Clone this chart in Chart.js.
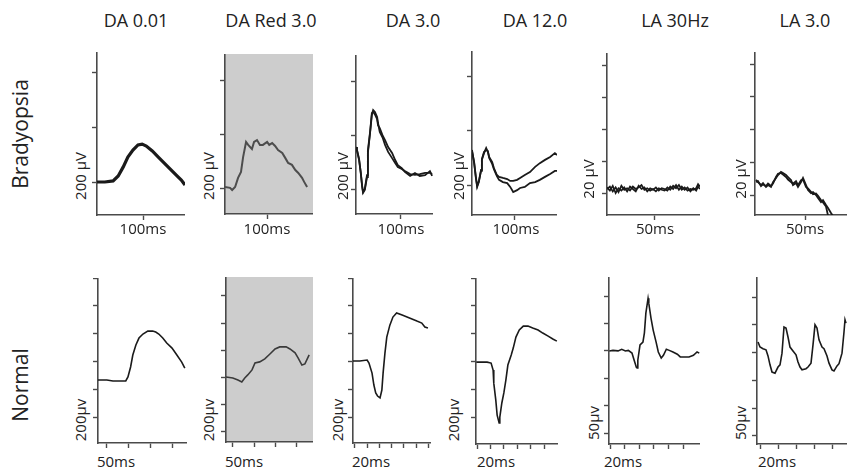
<!DOCTYPE html>
<html>
<head>
<meta charset="utf-8">
<script src="https://cdn.jsdelivr.net/npm/chart.js@4.4.1/dist/chart.umd.min.js"></script>
<style>
  html, body { margin: 0; padding: 0; background: #fff; }
  #fig { position: relative; width: 847px; height: 467px; overflow: hidden; font-family: "Open Sans", sans-serif; color: #222; }
  #fig canvas { position: absolute; }
  .lbl { position: absolute; white-space: nowrap; line-height: 1; transform: translate(-50%, -50%); z-index: 2; }
  .rot { transform: translate(-50%, -50%) rotate(-90deg); }
</style>
</head>
<body>
<div id="fig"></div>
<script>
// column titles and row names
const protocols = ["DA 0.01", "DA Red 3.0", "DA 3.0", "DA 12.0", "LA 30Hz", "LA 3.0"];
const groups = ["Bradyopsia", "Normal"];
const bradyAmpLabels = ["200 µV", "200 µV", "200 µV", "200 µV", "20 µV", "20 µV"];
const bradyTimeLabels = ["100ms", "100ms", "100ms", "100ms", "50ms", "50ms"];
const normalAmpLabels = ["200µv", "200µv", "200µv", "200µv", "50µv", "50µv"];
const normalTimeLabels = ["50ms", "50ms", "20ms", "20ms", "20ms", "20ms"];

// ---- Bradyopsia row (ms / µV) ----
const bDA001Ms = [0, 17, 35, 46, 57, 67, 78, 89, 98, 107, 120, 133, 146, 159, 172, 183, 191];
const bDA001Uv = [0, 0, 4, 22, 55, 91, 116, 135, 138, 131, 113, 91, 69, 47, 25, 7, -11];

const bRedMs = [0, 12, 17, 24, 31, 38, 43, 50, 55, 64, 69, 76, 83, 90, 100, 105, 112, 119, 126, 136, 143, 150, 159, 167, 174, 183, 188, 195];
const bRedUv = [7, 4, -4, 7, 41, 63, 118, 174, 163, 148, 174, 181, 163, 163, 174, 163, 170, 159, 144, 133, 115, 96, 89, 70, 59, 41, 26, 7];

const bDA3Ms = [0, 2, 7, 11, 14, 16, 20, 25, 27, 32, 36, 39, 43, 48, 50, 54, 61, 66, 73, 82, 89, 95, 104, 111, 123, 134, 145, 157, 168, 173];
const bDA3UvA = [159, 148, 111, 63, 11, -11, 0, 48, 137, 211, 278, 296, 289, 270, 248, 215, 192, 167, 141, 118, 100, 85, 78, 70, 59, 56, 59, 63, 63, 59];
const bDA3UvB = [159, 150, 115, 60, 15, -7, 4, 55, 145, 215, 285, 290, 280, 262, 240, 229, 200, 185, 159, 137, 111, 92, 81, 67, 52, 63, 52, 55, 70, 52];

const bDA12Ms = [0, 5, 9, 12, 16, 21, 23, 28, 33, 37, 40, 47, 51, 58, 63, 72, 82, 89, 96, 105, 112, 123, 135, 147, 158, 170, 182, 193, 198];
const bDA12UvA = [130, 81, 30, -7, 11, 56, 93, 118, 137, 122, 104, 85, 63, 37, 30, 26, 22, 15, 15, 19, 26, 37, 48, 67, 81, 93, 104, 118, 111];
const bDA12UvB = [125, 85, 26, -4, 15, 52, 96, 122, 130, 126, 100, 78, 59, 33, 19, 11, 7, -7, -26, -19, -11, -7, 7, 11, 19, 30, 41, 52, 52];

const bLA30Ms = [0, 3, 6, 9, 12, 15, 18, 21, 24, 27, 30, 33, 36, 39, 42, 45, 48, 51, 54, 57, 60, 63, 66, 69, 72, 75, 78, 81, 84, 87, 90, 93, 95, 97];
const bLA30UvA = [2.5, 4.0, 1.0, 3.5, 0.5, 4.5, 2.0, 3.0, 1.5, 4.0, 2.5, 3.5, 5.0, 2.0, 3.0, 1.5, 2.5, 1.0, 3.0, 2.0, 1.5, 3.5, 2.0, 4.5, 3.0, 5.0, 2.0, 3.5, 1.5, 2.5, 2.0, 3.0, 5.5, 4.0];
const bLA30UvB = [3.5, 1.5, 4.5, 0.0, 3.0, 1.5, 3.5, 1.0, 4.0, 2.5, 1.0, 4.5, 2.5, 3.5, 1.0, 3.0, 2.0, 3.5, 1.5, 3.0, 2.5, 1.5, 4.0, 2.5, 5.0, 2.0, 4.0, 2.0, 3.5, 1.0, 3.0, 1.5, 4.0, 2.5];

const bLA3Ms = [1, 3, 6, 8, 11, 13, 16, 18, 21, 23, 26, 28, 31, 33, 36, 38, 41, 43, 46, 48, 51, 53, 56, 58, 61, 63, 66, 68, 71, 73, 76, 78];
const bLA3UvA = [9.2, 7.9, 6.1, 7.3, 4.9, 6.1, 4.9, 7.9, 10.4, 12.2, 14.1, 13.4, 12.2, 11.0, 9.2, 6.1, 7.3, 4.9, 7.9, 10.4, 6.1, 3.1, 1.2, 1.8, 0.0, -1.8, -4.3, -3.1, -6.1, -7.9, -11.0, -12.8];
const bLA3UvB = [8.0, 8.5, 5.5, 6.5, 5.5, 7.0, 5.5, 7.0, 11.0, 13.0, 13.5, 12.5, 11.0, 9.5, 8.0, 7.0, 8.5, 6.0, 9.0, 9.5, 5.0, 4.0, 2.0, 0.5, 1.0, -0.5, -3.0, -4.5, -7.0, -12.5, -14.0, -14.0];

// ---- Normal row (ms / µV) ----
const nDA001Ms = [-20, 0, 14, 34, 43, 48, 54, 59, 66, 73, 82, 93, 104, 111, 118, 127, 136, 148, 159, 170, 177];
const nDA001Uv = [266, 266, 259, 259, 259, 288, 360, 446, 518, 568, 597, 618, 618, 611, 597, 568, 532, 496, 446, 395, 352];

const nRedMs = [-16, 0, 12, 21, 28, 35, 45, 52, 63, 75, 87, 99, 110, 125, 134, 146, 153, 162, 169, 179];
const nRedUv = [404, 397, 382, 368, 397, 419, 456, 507, 515, 537, 573, 610, 625, 625, 610, 581, 544, 492, 500, 566];

const nDA3Ms = [-3, 8, 20, 23, 28, 31, 34, 37, 41, 44, 46, 49, 52, 57, 62, 68, 77, 85, 93, 101, 109, 114, 119];
const nDA3Uv = [403, 403, 410, 388, 316, 230, 173, 151, 137, 194, 316, 460, 575, 661, 719, 748, 733, 719, 705, 690, 676, 647, 640];

const nDA12Ms = [-1, 7, 15, 21, 24, 25, 28, 30, 33, 34, 37, 40, 43, 46, 51, 54, 58, 63, 69, 76, 83, 91, 98, 106, 113, 119];
const nDA12Uv = [395, 395, 395, 388, 338, 244, 122, 14, -43, 0, 101, 173, 266, 374, 446, 496, 575, 626, 654, 654, 640, 626, 604, 582, 561, 546];

const nLA30Ms = [-1, 4, 11, 16, 21, 25, 30, 33, 36, 37, 38, 41, 45, 47, 49, 52, 53, 56, 59, 63, 66, 70, 73, 77, 81, 86, 92, 96, 103, 108, 114, 119, 122];
const nLA30Uv = [150, 151, 150, 153, 150, 151, 146, 133, 120, 119, 133, 161, 166, 183, 219, 246, 237, 210, 188, 166, 148, 137, 142, 153, 151, 148, 144, 139, 139, 139, 142, 148, 146];

const nLA3Ms = [-2.2, 0, 3.3, 6.6, 8.8, 11, 13.2, 16.5, 19.8, 22, 24.2, 26.4, 28.6, 30.8, 33, 36.3, 39.6, 41.8, 44, 46.2, 50.6, 52.8, 56.1, 58.3, 60.5, 62.7, 64.9, 68.2, 70.4, 73.7, 75.9, 79.2, 81.4, 84.7, 86.9, 90.2, 92.4, 93.5, 94.6];
const nLA3Uv = [169, 160, 157, 155, 144, 128, 115, 113, 124, 128, 149, 196, 194, 178, 160, 153, 146, 133, 124, 119, 121, 124, 131, 164, 200, 194, 173, 160, 157, 144, 131, 119, 117, 126, 130, 149, 187, 209, 203];

const AXIS = "#4a4a4a";
const INK = "#1a1a1a";
const TL = 5;

const bgPlugin = {
  id: "panelBg",
  beforeDraw(chart, args, opts) {
    if (!opts.color) return;
    const a = chart.chartArea, ctx = chart.ctx;
    ctx.save();
    ctx.fillStyle = opts.color;
    ctx.fillRect(a.left, a.top, a.right - a.left, a.bottom - a.top);
    ctx.restore();
  }
};

const tr = (xs, ys, color, width) => ({ xs, ys, color, width });

const panels = [
  { axisX: 97, top: 52, right: 185, axisY: 215, xMin: 0, xMax: 191, yMin: -120, yMax: 473, xTicks: [100], yTicks: [0, 200, 400],
    traces: [tr(bDA001Ms, bDA001Uv, INK, 3.2)] },
  { axisX: 225, top: 54, right: 313, axisY: 214, xMin: 0, xMax: 209, yMin: -93, yMax: 500, xTicks: [100], yTicks: [0, 200, 400], bg: "#cdcdcd",
    traces: [tr(bRedMs, bRedUv, "#4d4d4d", 2)] },
  { axisX: 356, top: 55, right: 433, axisY: 214, xMin: 0, xMax: 175, yMin: -89, yMax: 500, xTicks: [100], yTicks: [0, 200, 400],
    traces: [tr(bDA3Ms, bDA3UvA, INK, 1.8), tr(bDA3Ms, bDA3UvB, INK, 1.8)] },
  { axisX: 472, top: 51, right: 557, axisY: 215, xMin: 0, xMax: 198, yMin: -111, yMax: 496, xTicks: [100], yTicks: [0, 200, 400],
    traces: [tr(bDA12Ms, bDA12UvA, INK, 1.8), tr(bDA12Ms, bDA12UvB, INK, 1.8)] },
  { axisX: 607, top: 53, right: 700, axisY: 215, xMin: 0, xMax: 97, yMin: -13.75, yMax: 87.5, xTicks: [50], yTicks: [0, 20, 40, 60, 80],
    traces: [tr(bLA30Ms, bLA30UvA, INK, 1.7), tr(bLA30Ms, bLA30UvB, INK, 1.7)] },
  { axisX: 755, top: 52, right: 847, axisY: 215, xMin: 0, xMax: 92, yMin: -12.2, yMax: 87.4, xTicks: [50], yTicks: [0, 20, 40, 60, 80],
    traces: [tr(bLA3Ms, bLA3UvA, INK, 1.8), tr(bLA3Ms, bLA3UvB, INK, 1.8)] },

  { axisX: 98, top: 278, right: 187, axisY: 443, xMin: -20, xMax: 182, yMin: -187, yMax: 1000, xTicks: [0, 50, 100, 150], yTicks: [0, 200, 400, 600, 800, 1000],
    traces: [tr(nDA001Ms, nDA001Uv, INK, 1.6)] },
  { axisX: 226, top: 277, right: 313, axisY: 442, xMin: -16, xMax: 188, yMin: -74, yMax: 1139, xTicks: [0, 50, 100, 150], yTicks: [0, 200, 400, 600, 800, 1000], bg: "#cdcdcd",
    traces: [tr(nRedMs, nRedUv, "#3a3a3a", 1.6)] },
  { axisX: 353, top: 278, right: 431, axisY: 443, xMin: -3, xMax: 124, yMin: -187, yMax: 1000, xTicks: [0, 20, 40, 60, 80, 100, 120], yTicks: [0, 200, 400, 600, 800, 1000],
    traces: [tr(nDA3Ms, nDA3Uv, INK, 1.6)] },
  { axisX: 476, top: 278, right: 558, axisY: 444, xMin: -1.5, xMax: 120.7, yMin: -194, yMax: 1000, xTicks: [0, 20, 40, 60, 80, 100], yTicks: [0, 200, 400, 600, 800, 1000],
    traces: [tr(nDA12Ms, nDA12Uv, INK, 1.6)] },
  { axisX: 609, top: 277, right: 700, axisY: 444, xMin: -1.4, xMax: 123, yMin: -20, yMax: 285, xTicks: [0, 20, 40, 60, 80, 100], yTicks: [0, 50, 100, 150, 200, 250],
    traces: [tr(nLA30Ms, nLA30Uv, INK, 1.6)] },
  { axisX: 757, top: 277, right: 847, axisY: 444, xMin: -3.3, xMax: 95.7, yMin: -14.4, yMax: 286, xTicks: [0, 20, 40, 60, 80], yTicks: [0, 50, 100, 150, 200, 250],
    traces: [tr(nLA3Ms, nLA3Uv, INK, 1.6)] }
];

const fig = document.getElementById("fig");

function axisOpts(min, max, ticks) {
  return {
    type: "linear", min, max,
    afterBuildTicks: (s) => { s.ticks = ticks.map((v) => ({ value: v })); },
    ticks: { display: false },
    grid: { display: true, drawOnChartArea: false, drawTicks: true, tickLength: TL, tickColor: AXIS, tickWidth: 1.4 },
    border: { display: true, color: AXIS, width: 1.6 }
  };
}

panels.forEach((p) => {
  const c = document.createElement("canvas");
  const w = p.right - p.axisX + TL, h = p.axisY - p.top + TL;
  c.width = w; c.height = h;
  c.style.left = (p.axisX - TL) + "px";
  c.style.top = p.top + "px";
  c.style.width = w + "px";
  c.style.height = h + "px";
  fig.appendChild(c);
  new Chart(c, {
    type: "line",
    data: {
      datasets: p.traces.map((t) => ({
        data: t.xs.map((x, i) => ({ x, y: t.ys[i] })),
        borderColor: t.color, borderWidth: t.width,
        pointRadius: 0, tension: 0, fill: false
      }))
    },
    options: {
      responsive: false, animation: false, devicePixelRatio: 1,
      layout: { padding: 0 },
      plugins: { legend: { display: false }, tooltip: { enabled: false }, panelBg: { color: p.bg } },
      scales: { x: axisOpts(p.xMin, p.xMax, p.xTicks), y: axisOpts(p.yMin, p.yMax, p.yTicks) }
    },
    plugins: [bgPlugin]
  });
});

function label(text, x, y, size, rotate) {
  const d = document.createElement("div");
  d.className = "lbl" + (rotate ? " rot" : "");
  d.textContent = text;
  d.style.left = x + "px";
  d.style.top = y + "px";
  d.style.fontSize = size + "px";
  fig.appendChild(d);
}

// titles
[136, 271, 413, 535, 675, 805].forEach((x, i) => label(protocols[i], x, 20, 18));
// row names
label(groups[0], 20, 134, 21, true);
label(groups[1], 20, 385, 21, true);
// bradyopsia scale labels
[80, 208, 342, 458, 588, 740].forEach((x, i) => label(bradyAmpLabels[i], x, i < 4 ? 176 : 179, 15, true));
[143, 267, 401, 516, 655, 805].forEach((x, i) => label(bradyTimeLabels[i], x, 228, 15));
// normal scale labels
[80, 208, 337, 453, 593, 740].forEach((x, i) => label(normalAmpLabels[i], x, i < 4 ? 420 : 423, 15, true));
[116, 244, 371, 496, 623, 777].forEach((x, i) => label(normalTimeLabels[i], x, 461, 15));
</script>
</body>
</html>
